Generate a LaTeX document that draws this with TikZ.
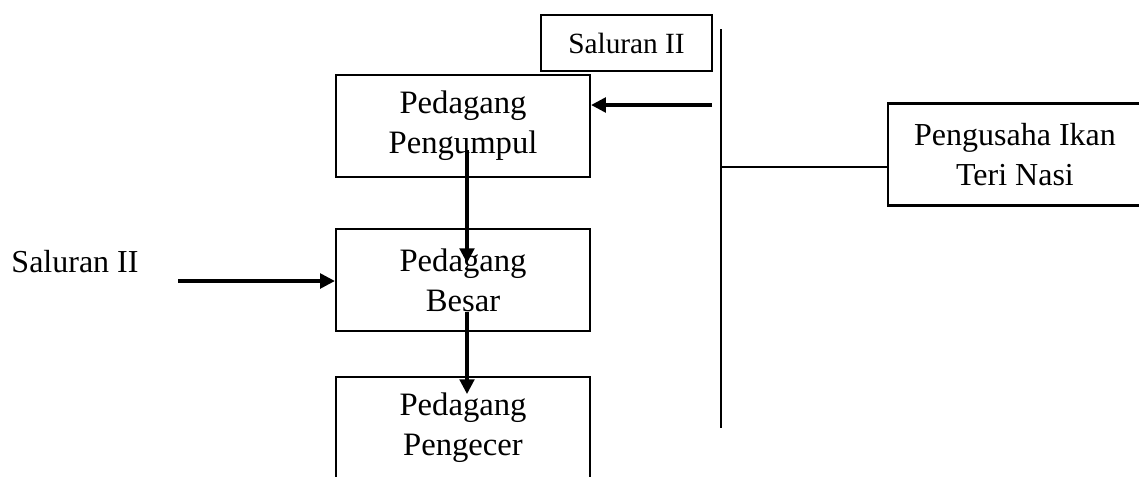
\documentclass[tikz,border=0pt]{standalone}
\usepackage{fontspec}
\setmainfont{Liberation Serif}
\usetikzlibrary{arrows.meta}
\begin{document}
\begin{tikzpicture}[x=0.75pt,y=-0.75pt,
  box/.style={draw,line width=1.7pt,minimum width=254*0.75pt,minimum height=102*0.75pt,
    inner sep=0pt,align=center,font=\fontsize{24.5}{30}\selectfont},
  tag/.style={draw,line width=1.3pt,minimum width=171*0.75pt,minimum height=56*0.75pt,
    inner sep=0pt,font=\fontsize{22}{26}\selectfont},
  plain/.style={inner sep=0pt,font=\fontsize{24}{28}\selectfont},
  flow/.style={line width=2.3pt,-{Triangle[length=11pt,width=11pt]}},
  rule/.style={line width=2pt}]
\useasboundingbox (0,0) rectangle (1139,476);
\clip (0,0) rectangle (1139,476);

% trader chain
\node[box] (pengumpul) at (463,126) {Pedagang\\Pengumpul};
\node[box] (besar) at (463,280) {Pedagang\\Besar};
\node[box] (pengecer) at (463,428) {Pedagang\\Pengecer};
\node[box,font=\fontsize{24}{30}\selectfont] (pengusaha) at (1015,154.5) {Pengusaha Ikan\\Teri Nasi};

% channel labels
\node[tag] (salTop) at (626.5,43) {Saluran II};
\node[plain] (salLeft) at (75,262) {Saluran II};

% vertical distribution line and its branch to the producer
\coordinate (busTop) at (721,29);
\coordinate (busBot) at (721,428);
\coordinate (busMid) at (721,167);
\coordinate (busOut) at (712,105);
\draw[rule] (busTop) -- (busBot);
\draw[rule] (busMid) -- (pengusaha.west |- busMid);

% flows
\draw[flow] (busOut) -- (pengumpul.east |- busOut);
\coordinate (d1s) at (467,150);
\coordinate (d1e) at (467,263);
\draw[flow] (d1s) -- (d1e);
\coordinate (d2s) at (467,312);
\coordinate (d2e) at (467,394);
\draw[flow] (d2s) -- (d2e);
\coordinate (inL) at (178,281);
\draw[flow] (inL) -- (besar.west |- inL);
\end{tikzpicture}
\end{document}
